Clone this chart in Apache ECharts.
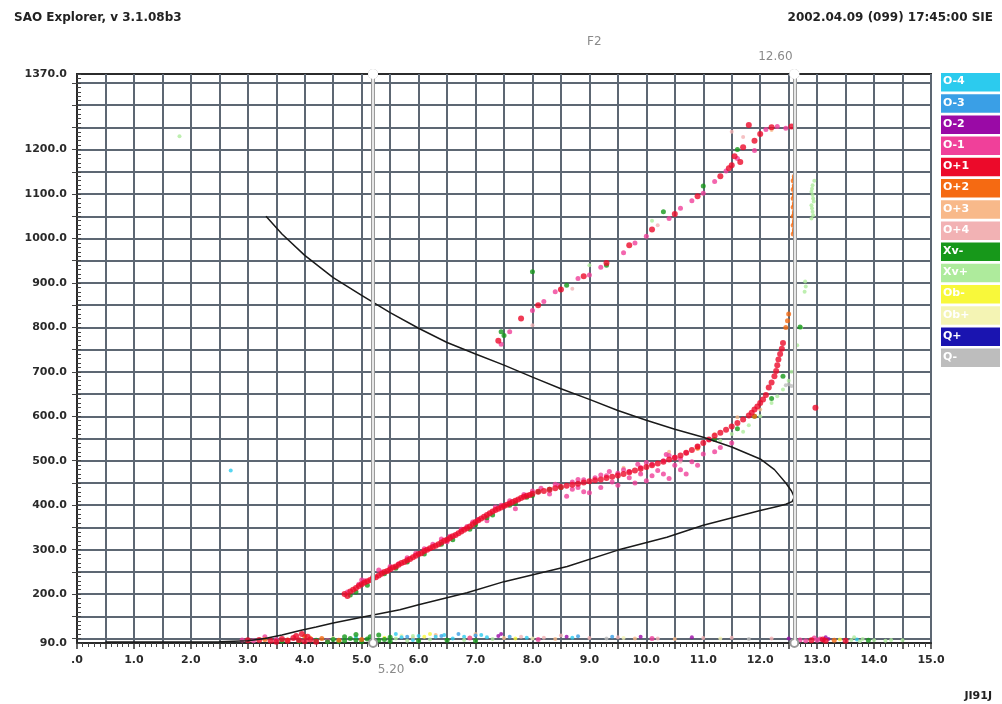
<!DOCTYPE html>
<html>
<head>
<meta charset="utf-8">
<title>SAO Explorer ionogram</title>
<script src="https://cdn.jsdelivr.net/npm/echarts@6/dist/echarts.min.js"></script>
<style>
  html, body { margin: 0; padding: 0; background: #ffffff; }
  #chart { width: 1002px; height: 704px; }
</style>
</head>
<body>
<div id="chart"></div>
<script>
// ---- axis ticks and labels -------------------------------------------
const yLabelValues = [90, 200, 300, 400, 500, 600, 700, 800, 900, 1000, 1100, 1200, 1370];
const yGridValues = [100, 150, 200, 250, 300, 350, 400, 450, 500, 550, 600, 650, 700, 750,
  800, 850, 900, 950, 1000, 1050, 1100, 1150, 1200, 1250, 1300, 1350];
const markerFreqs = [5.2, 12.6];

// ---- legend (Doppler / polarization classes) -------------------------
const classNames = ['O-4', 'O-3', 'O-2', 'O-1', 'O+1', 'O+2', 'O+3', 'O+4', 'Xv-', 'Xv+', 'Ob-', 'Ob+', 'Q+', 'Q-'];
const classColors = ['#2ccbee', '#3a9fe6', '#9a0aa6', '#f0409a', '#ec0a2a', '#f56a12', '#f8b98a', '#f2b2b4',
  '#17981a', '#aeeb9c', '#f8f83a', '#f4f4b4', '#1a14b0', '#bdbdbd'];

// ---- echo points [frequency MHz, virtual height km] per class ---------
const echoO_4 = [[2.7, 478], [5.7, 103], [6.3, 104], [6.6, 100], [7.2, 103], [7.9, 102], [4.9, 103],
  [5.9, 97], [6.0, 106], [6.8, 104], [8.7, 102], [13.7, 98], [6.45, 108], [7.1, 108], [5.6, 110]];
const echoO_3 = [[6.4, 106], [7.0, 107], [8.8, 105], [5.8, 104], [7.6, 104], [9.4, 104], [6.7, 110]];
const echoO_2 = [[7.4, 106], [8.6, 104], [10.8, 103], [13.2, 99], [13.1, 97], [9.9, 104], [12.5, 100],
  [13.15, 103], [7.45, 110]];
const echoO_1 = [
  [4.75, 205], [5.05, 230], [5.35, 250], [5.65, 268], [5.95, 292], [6.25, 312], [6.55, 330], [6.75, 346],
  [7.05, 368], [7.45, 400], [7.85, 424], [8.15, 438], [8.45, 445], [8.7, 452], [8.9, 457], [9.1, 462],
  [9.3, 466], [9.5, 472], [9.7, 476], [9.9, 485], [10.1, 492], [10.3, 500], [10.5, 508], [10.7, 518],
  [10.9, 532], [11.1, 548], [8.6, 420], [8.9, 430], [9.2, 440], [9.5, 445], [10.0, 455], [10.3, 470],
  [10.6, 480], [10.4, 460], [9.8, 450], [10.9, 490], [11.3, 530], [8.8, 440], [9.0, 428], [9.7, 462],
  [10.2, 478], [10.8, 498], [11.2, 520], [11.5, 540], [7.2, 365], [7.7, 392], [8.3, 425], [6.5, 318],
  [5.5, 262], [5.2, 240], [4.95, 222], [6.85, 352], [9.35, 476], [9.85, 492], [10.35, 514],
  [5.0, 232], [5.3, 254], [5.8, 282], [6.1, 302], [6.4, 324], [6.95, 362], [7.35, 396], [7.6, 410],
  [8.0, 432], [8.4, 447], [8.8, 458], [9.2, 468], [9.6, 480], [10.0, 496], [10.4, 512], [10.6, 504],
  [10.7, 470], [10.1, 466], [9.4, 452], [8.7, 436], [9.9, 470], [11.0, 515], [10.5, 490],
  [7.6, 790], [8.0, 838], [8.4, 880], [8.8, 910], [9.2, 935], [9.8, 990], [10.4, 1045], [10.8, 1085],
  [11.2, 1128], [11.6, 1180], [12.1, 1245], [12.3, 1252], [12.45, 1248], [7.45, 762], [8.2, 858],
  [9.0, 918], [9.6, 968], [10.0, 1005], [10.6, 1068], [11.0, 1102], [11.4, 1152], [11.9, 1198],
  [2.9, 97], [3.1, 95], [3.5, 98], [4.4, 95], [12.7, 97], [12.8, 95], [13.0, 96], [13.05, 99],
  [6.9, 101], [8.1, 98], [10.1, 100], [3.3, 104], [12.95, 101]
];
const echoO1 = [
  [4.7, 200], [4.8, 206], [4.9, 214], [5.0, 222], [5.1, 229], [5.2, 236], [5.3, 242], [5.4, 250],
  [5.5, 256], [5.6, 262], [5.7, 270], [5.8, 276], [5.9, 283], [6.0, 290], [6.1, 297], [6.2, 303],
  [6.3, 309], [6.4, 316], [6.5, 322], [6.6, 330], [6.7, 337], [6.8, 345], [6.9, 352], [7.0, 362],
  [7.1, 370], [7.2, 378], [7.3, 386], [7.4, 392], [7.5, 398], [7.6, 404], [7.7, 410], [7.8, 416],
  [7.9, 421], [8.0, 426], [8.2, 432], [8.4, 438], [8.6, 444], [8.8, 448], [9.0, 454], [9.2, 458],
  [9.4, 464], [9.6, 470], [9.8, 478], [10.0, 486], [10.2, 494], [10.4, 503], [10.6, 512], [10.8, 524],
  [11.0, 540], [11.2, 556], [11.4, 570], [11.6, 585], [11.8, 602], [11.9, 615], [12.0, 630], [12.1, 648],
  [12.15, 665], [12.25, 690], [12.3, 715], [12.35, 740], [12.4, 765], [12.97, 619],
  [4.75, 196], [4.85, 210], [4.95, 218], [5.05, 226], [5.15, 232], [5.25, 238], [5.35, 246], [5.45, 252],
  [5.55, 260], [5.65, 266], [5.75, 272], [5.85, 279], [5.95, 286], [6.05, 292], [6.15, 300], [6.25, 306],
  [6.35, 312], [6.45, 320], [6.55, 326], [6.65, 333], [6.75, 341], [6.85, 348], [6.95, 357], [7.05, 366],
  [7.15, 374], [7.25, 382], [7.35, 389], [7.45, 395], [7.55, 401], [7.65, 407], [7.75, 413], [7.85, 419],
  [7.95, 423], [8.1, 430], [8.3, 435], [8.5, 441], [8.7, 446], [8.9, 451], [9.1, 456], [9.3, 461],
  [9.5, 467], [9.7, 474], [9.9, 482], [10.1, 490], [10.3, 498], [10.5, 507], [10.7, 518], [10.9, 532],
  [11.1, 548], [11.3, 563], [11.5, 577], [11.7, 593], [11.85, 608], [11.95, 622], [12.05, 638],
  [12.2, 676], [12.28, 702], [12.32, 728], [12.38, 752],
  [7.4, 770], [7.8, 820], [8.1, 850], [8.5, 885], [8.9, 915], [9.3, 945], [9.7, 985], [10.1, 1020],
  [10.5, 1055], [10.9, 1095], [11.3, 1140], [11.5, 1165], [11.7, 1205], [11.9, 1220], [12.0, 1235],
  [11.8, 1255], [12.2, 1250], [12.55, 1252], [11.55, 1185], [11.65, 1172], [11.45, 1158],
  [3.0, 96], [3.2, 97], [3.4, 95], [3.6, 99], [3.8, 101], [3.9, 96], [4.0, 94], [4.1, 98],
  [3.5, 93], [3.7, 95], [4.2, 93], [12.9, 96], [13.1, 98], [13.5, 95], [13.15, 95],
  [3.85, 106], [4.05, 104], [3.95, 110]
];
const echoO2 = [
  [12.45, 800], [12.48, 815], [12.5, 830], [12.58, 1010], [12.6, 1020], [12.58, 1030], [12.6, 1040],
  [12.58, 1050], [12.6, 1060], [12.58, 1070], [12.6, 1080], [12.58, 1090], [12.6, 1100], [12.58, 1110],
  [12.6, 1120], [12.58, 1130], [12.6, 1140], [12.6, 1015], [12.6, 1035], [12.6, 1055], [12.6, 1075],
  [12.6, 1095], [12.6, 1115], [12.6, 1135], [11.9, 600], [10.9, 528],
  [3.3, 98], [3.7, 97], [4.3, 100], [13.3, 96], [4.6, 96], [5.0, 98], [4.0, 105]
];
const echoO3 = [[5.9, 101], [7.5, 101], [8.4, 99], [9.8, 100], [10.5, 99], [11.6, 598], [12.0, 615],
  [11.2, 560], [10.4, 520], [9.6, 484], [12.2, 1244], [6.3, 108], [7.0, 110]];
const echoO4 = [[7.8, 104], [8.2, 102], [9.0, 101], [9.5, 103], [10.2, 100], [11.0, 101], [11.5, 102], [12.2, 100],
  [11.5, 1240], [11.7, 1228], [10.6, 498], [9.9, 472], [8.0, 805], [8.7, 887], [10.2, 1030], [8.5, 107]];
const echoXvMinus = [
  [4.8, 198], [5.1, 220], [5.4, 246], [5.8, 272], [6.1, 290], [6.4, 312], [6.9, 346], [7.2, 372],
  [7.6, 400], [7.9, 418], [8.1, 430], [8.3, 436], [11.2, 548], [11.6, 572], [11.9, 600], [12.2, 640],
  [12.4, 690], [12.7, 801], [8.0, 925], [7.5, 782], [8.6, 895], [10.3, 1060], [4.9, 205], [5.6, 258],
  [6.6, 322], [7.0, 356], [7.3, 378], [7.7, 404], [8.5, 440], [8.0, 422], [7.45, 790], [9.3, 940],
  [11.0, 1118], [11.6, 1200],
  [3.6, 94], [4.2, 96], [4.5, 98], [4.7, 95], [4.9, 97], [5.1, 99], [5.3, 96], [5.5, 94], [5.2, 93],
  [4.6, 93], [6.0, 95], [6.5, 96], [7.0, 95], [4.4, 93], [4.8, 100], [5.0, 93], [5.4, 98], [3.9, 93],
  [13.9, 96], [5.15, 104], [5.3, 108], [4.7, 104], [4.9, 109], [5.5, 103]
];
const echoXvPlus = [
  [11.5, 560], [11.8, 580], [12.0, 600], [12.2, 630], [12.4, 660], [12.55, 700], [12.65, 760], [12.72, 800],
  [12.9, 1045], [12.92, 1060], [12.9, 1075], [12.93, 1090], [12.9, 1105], [12.92, 1120], [12.95, 1130],
  [12.93, 1052], [12.91, 1068], [12.94, 1083], [12.92, 1098], [12.91, 1112],
  [12.78, 880], [12.8, 892], [12.79, 903], [1.8, 1230], [11.3, 545], [11.7, 565], [12.3, 645],
  [12.5, 680], [9.0, 940], [10.1, 1040],
  [5.6, 100], [6.2, 98], [6.8, 97], [13.6, 97], [13.8, 99], [14.0, 96], [14.3, 97], [14.5, 96],
  [5.8, 95], [7.3, 99], [13.75, 94], [14.2, 95], [13.65, 103], [5.9, 106]
];
const echoObMinus = [[5.4, 102], [6.1, 104], [6.9, 102], [13.4, 98], [4.1, 102], [7.7, 100], [6.2, 110]];
const echoObPlus = [[8.0, 100], [9.6, 101], [4.5, 101], [11.3, 100], [5.7, 107]];
const echoQPlus = [];
const echoQMinus = [[12.45, 670], [12.55, 668], [9.3, 100], [11.8, 99], [12.5, 672]];

// ---- true-height profile [plasma frequency MHz, height km] -----------
const profile = [
  [3.32, 1050], [3.6, 1010], [4.0, 962], [4.5, 912], [5.0, 872], [5.5, 833], [6.0, 798], [6.5, 766],
  [7.0, 740], [7.5, 715], [8.0, 688], [8.5, 662], [9.0, 638], [9.5, 613], [10.0, 591], [10.5, 571],
  [11.0, 553], [11.5, 531], [12.0, 504], [12.25, 480], [12.45, 450], [12.55, 432], [12.6, 418],
  [12.56, 408], [12.45, 402], [12.3, 397], [12.0, 388], [11.0, 355], [10.36, 328], [9.5, 299],
  [8.61, 262], [7.5, 228], [6.85, 203], [6.0, 176], [5.67, 165], [5.0, 148], [4.5, 135], [4.2, 126],
  [3.92, 118], [3.6, 108], [3.3, 100], [3.0, 95], [2.5, 93], [1.5, 92], [0.5, 92]
];

const echoSets = [echoO_4, echoO_3, echoO_2, echoO_1, echoO1, echoO2, echoO3, echoO4,
  echoXvMinus, echoXvPlus, echoObMinus, echoObPlus, echoQPlus, echoQMinus];
// drawing order: pale classes first, strong classes on top
const drawOrder = [11, 10, 7, 6, 13, 0, 1, 2, 9, 3, 8, 5, 4, 12];
const dotSizes = [4, 4, 4, 5, 6, 5, 4, 4, 5, 4, 4, 4, 4, 4];

const chart = echarts.init(document.getElementById('chart'), null, { renderer: 'canvas' });

const FONT = 'DejaVu Sans, Verdana, sans-serif';
const labelFont = { fontFamily: FONT, fontWeight: 'bold', fontSize: 11, color: '#2a2a2a' };
const headFont = { fontFamily: FONT, fontWeight: 'bold', fontSize: 12, color: '#222' };

const series = drawOrder.map(i => ({
  type: 'scatter',
  name: classNames[i],
  data: echoSets[i],
  symbol: 'circle',
  symbolSize: dotSizes[i],
  itemStyle: { color: classColors[i] },
  silent: true,
  z: 3
}));

series.push({
  type: 'line',
  name: 'profile',
  data: profile,
  showSymbol: false,
  lineStyle: { color: '#1a1a1a', width: 1.5 },
  silent: true,
  z: 4,
  markLine: {
    silent: true,
    symbol: ['emptyCircle', 'emptyCircle'],
    symbolSize: 8,
    animation: false,
    data: [].concat(
      markerFreqs.map((f, k) => ({
        xAxis: f,
        lineStyle: { color: '#9a9a9a', width: 4, type: 'solid' },
        itemStyle: { color: '#8a8a8a' },
        label: {
          show: true,
          formatter: f.toFixed(2),
          position: k === 0 ? 'start' : 'end',
          offset: k === 0 ? [18, 16] : [-19, -6],
          color: '#8a8a8a',
          fontFamily: FONT,
          fontSize: 12
        }
      })),
      markerFreqs.map(f => ({
        xAxis: f,
        symbol: 'none',
        lineStyle: { color: '#ffffff', width: 1.5, type: 'solid' },
        label: { show: false }
      }))
    )
  }
});

// legend boxes drawn as coloured tiles with white text
const legendTiles = classNames.map((name, i) => ({
  type: 'group',
  x: 941,
  y: 73 + i * 21.2,
  children: [
    { type: 'rect', shape: { x: 0, y: 0, width: 59, height: 18.5 }, style: { fill: classColors[i] } },
    { type: 'text', x: 2, y: 3, style: { text: name, fill: '#ffffff', font: 'bold 11px ' + FONT } }
  ]
}));

const option = {
  backgroundColor: '#ffffff',
  animation: false,
  title: [
    { text: 'SAO Explorer, v 3.1.08b3', left: 9, top: 7, textStyle: headFont },
    { text: '2002.04.09 (099) 17:45:00 SIE', right: 4, top: 7, textStyle: headFont },
    { text: 'F2', left: 582, top: 31, textStyle: { fontFamily: FONT, fontWeight: 'normal', fontSize: 12, color: '#8a8a8a' } },
    { text: 'JI91J', right: 5, top: 686, textStyle: { fontFamily: FONT, fontWeight: 'bold', fontSize: 11, color: '#222' } }
  ],
  grid: {
    left: 77, right: 71, top: 74, bottom: 61,
    show: true, borderColor: '#2b2b2b', borderWidth: 2, backgroundColor: 'transparent'
  },
  xAxis: {
    type: 'value', min: 0, max: 15, interval: 0.5,
    axisLine: { show: true, onZero: false, lineStyle: { color: '#2b2b2b', width: 2 } },
    axisTick: { show: true, length: 6, lineStyle: { color: '#333', width: 1.5 } },
    minorTick: { show: true, splitNumber: 5, length: 4, lineStyle: { color: '#444', width: 1 } },
    splitLine: { show: true, lineStyle: { color: '#5d6773', width: 2 } },
    axisLabel: Object.assign({
      margin: 12,
      formatter: v => (v === 0 ? '.0' : (Math.abs(v % 1) < 1e-9 ? v.toFixed(1) : ''))
    }, labelFont)
  },
  yAxis: [
    {
      type: 'value', min: 90, max: 1370, interval: 10, position: 'left',
      axisLine: { show: true, onZero: false, lineStyle: { color: '#2b2b2b', width: 2 } },
      axisTick: { show: true, inside: true, length: 4, lineStyle: { color: '#444', width: 1 } },
      axisLabel: { show: false },
      splitLine: { show: false }
    },
    {
      type: 'value', min: 90, max: 1370, position: 'left',
      axisLine: { show: false },
      axisTick: { show: true, length: 5, customValues: yGridValues, lineStyle: { color: '#444', width: 1 } },
      splitLine: { show: true, lineStyle: { color: '#5d6773', width: 2 } },
      axisLabel: Object.assign({
        margin: 10,
        customValues: yLabelValues,
        formatter: v => v.toFixed(1)
      }, labelFont)
    }
  ],
  graphic: legendTiles,
  series: series
};

chart.setOption(option);
</script>
</body>
</html>
